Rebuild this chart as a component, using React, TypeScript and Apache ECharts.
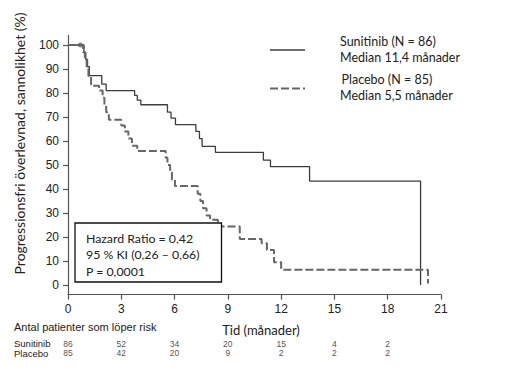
import React, { useEffect, useRef } from "react";
import * as echarts from "echarts";

const xTicks = [0, 3, 6, 9, 12, 15, 18, 21];
const yTicks = [0, 10, 20, 30, 40, 50, 60, 70, 80, 90, 100];

const sunitinibCurve: [number, number][] = [
  [0, 100], [0.8, 100], [0.9, 97], [1.0, 94], [1.1, 91], [1.2, 87.2], [1.9, 83.7], [2.15, 81],
  [3.75, 79], [3.9, 77], [4.1, 75.1], [5.6, 72], [5.8, 69.5], [6.05, 66.8],
  [7.2, 64], [7.4, 61], [7.55, 57.8], [8.3, 55.3], [11.0, 52], [11.4, 49.3],
  [13.6, 43.3], [19.85, 0],
];

const placeboCurve: [number, number][] = [
  [0, 100], [0.75, 100], [0.85, 97], [0.95, 94], [1.05, 91], [1.15, 87], [1.3, 83],
  [1.75, 81], [1.95, 78], [2.05, 75], [2.15, 72], [2.3, 68.9], [3.0, 66.5], [3.2, 64],
  [3.4, 61], [3.6, 58], [3.9, 55.8], [5.5, 53], [5.6, 50], [5.75, 47], [5.85, 44],
  [6.02, 41.2], [7.3, 38], [7.45, 35], [7.6, 32], [7.8, 29], [8.0, 27.2], [8.44, 24.4],
  [9.67, 19.2], [10.9, 17.4], [11.2, 14.6], [11.6, 9.5], [12.0, 6.4], [20.27, 0.6],
];

const censorMarks: [number, number][] = [[0.7, 100]];

const riskTimes = [0, 3, 6, 9, 12, 15, 18];
const riskGroups = ["Sunitinib", "Placebo"];
const riskSunitinib = [86, 52, 34, 20, 15, 4, 2];
const riskPlacebo = [85, 42, 20, 9, 2, 2, 2];

const legendSunitinib = ["Sunitinib (N = 86)", "Median 11,4 månader"];
const legendPlacebo = ["Placebo (N = 85)", "Median 5,5 månader"];
const hazardLines = ["Hazard Ratio = 0,42", "95 % KI (0,26 – 0,66)", "P = 0,0001"];
const yTitle = "Progressionsfri överlevnad, sannolikhet (%)";
const xTitle = "Tid (månader)";
const riskTitle = "Antal patienter som löper risk";

const SANS = "Lato, 'Open Sans', sans-serif";
const ARIAL = "'Liberation Sans', Arial, sans-serif";
const SOLID = "#3c3c3c";
const DASH = "#666666";

export default function App() {
  const ref = useRef<HTMLDivElement>(null);
  useEffect(() => {
    if (!ref.current) return;
    const chart = echarts.init(ref.current, null, { renderer: "svg" });
    const riskData: any[] = [];
    riskTimes.forEach((t, i) => {
      riskData.push([t, riskGroups[0], riskSunitinib[i]]);
      riskData.push([t, riskGroups[1], riskPlacebo[i]]);
    });
    const textEl = (text: string, x: number, y: number, font: string, extra: any = {}) => ({
      type: "text",
      x,
      y,
      ...extra,
      style: { text, font, fill: "#222", align: "left", verticalAlign: "middle", ...(extra.style || {}) },
    });
    chart.setOption({
      animation: false,
      backgroundColor: "#ffffff",
      grid: [
        { left: 68, right: 69, top: 35.4, bottom: 86.4, containLabel: false },
        { left: 68, right: 69, top: 339, height: 19, containLabel: false },
      ],
      xAxis: [
        {
          type: "value",
          gridIndex: 0,
          min: 0,
          max: 21,
          interval: 3,
          splitLine: { show: false },
          axisLine: { show: true, onZero: false, lineStyle: { color: "#555", width: 1.2 } },
          axisTick: { show: true, length: 5, lineStyle: { color: "#555", width: 1.2 } },
          axisLabel: { color: "#222", fontSize: 12, fontFamily: ARIAL, margin: 8 },
        },
        { type: "value", gridIndex: 1, min: 0, max: 21, show: false },
      ],
      yAxis: [
        {
          type: "value",
          gridIndex: 0,
          min: -4,
          max: 104,
          splitLine: { show: false },
          axisLine: { show: true, onZero: false, lineStyle: { color: "#555", width: 1.2 } },
          axisTick: { show: true, length: 5, customValues: yTicks, lineStyle: { color: "#555", width: 1.2 } },
          axisLabel: { color: "#222", fontSize: 12, fontFamily: ARIAL, margin: 9, customValues: yTicks },
        },
        {
          type: "category",
          gridIndex: 1,
          data: riskGroups,
          inverse: true,
          axisLine: { show: false },
          axisTick: { show: false },
          splitLine: { show: false },
          axisLabel: { interval: 0, align: "left", margin: 54, fontSize: 9.5, fontFamily: ARIAL, color: "#222" },
        },
      ],
      series: [
        {
          name: "Sunitinib",
          type: "line",
          step: "end",
          xAxisIndex: 0,
          yAxisIndex: 0,
          data: sunitinibCurve,
          symbol: "none",
          lineStyle: { color: SOLID, width: 1.3 },
          itemStyle: { color: SOLID },
        },
        {
          name: "Placebo",
          type: "line",
          step: "end",
          xAxisIndex: 0,
          yAxisIndex: 0,
          data: placeboCurve,
          symbol: "none",
          lineStyle: { color: DASH, width: 2, type: [8, 3] },
          itemStyle: { color: DASH },
        },
        {
          name: "censor",
          type: "scatter",
          xAxisIndex: 0,
          yAxisIndex: 0,
          data: censorMarks,
          symbol: "emptyCircle",
          symbolSize: 3,
          itemStyle: { color: "#666", borderWidth: 0.8 },
        },
        {
          name: "risk",
          type: "scatter",
          xAxisIndex: 1,
          yAxisIndex: 1,
          data: riskData,
          symbolSize: 1,
          itemStyle: { color: "rgba(0,0,0,0)" },
          label: {
            show: true,
            position: "inside",
            formatter: (p: any) => String(p.value[2]),
            fontSize: 8.5,
            fontFamily: ARIAL,
            color: "#222",
          },
        },
      ],
      graphic: [
        {
          type: "text",
          x: 19,
          y: 143.5,
          rotation: Math.PI / 2,
          style: {
            text: yTitle,
            font: `14px ${SANS}`,
            fill: "#222",
            align: "center",
            verticalAlign: "middle",
          },
        },
        {
          type: "text",
          x: 261,
          y: 330,
          style: { text: xTitle, font: `13px ${SANS}`, fill: "#222", align: "center", verticalAlign: "middle" },
        },
        textEl(riskTitle, 14, 327, `11px ${ARIAL}`),
        // legend
        { type: "line", shape: { x1: 270, y1: 50, x2: 305, y2: 50 }, style: { stroke: SOLID, lineWidth: 1.3 } },
        { type: "line", shape: { x1: 270, y1: 88.5, x2: 305, y2: 88.5 }, style: { stroke: DASH, lineWidth: 2, lineDash: [8, 3] } },
        textEl(legendSunitinib[0], 340, 41, `12.5px ${SANS}`),
        textEl(legendSunitinib[1], 340, 57, `12.5px ${SANS}`),
        textEl(legendPlacebo[0], 341.5, 79, `12.5px ${SANS}`),
        textEl(legendPlacebo[1], 340, 95, `12.5px ${SANS}`),
        // hazard box
        {
          type: "rect",
          shape: { x: 75, y: 223, width: 146.5, height: 59 },
          style: { fill: "#fff", stroke: "#111", lineWidth: 1.3 },
          z: 10,
        },
        ...hazardLines.map((t, i) => textEl(t, 86, 238 + i * 16.7, `12.3px ${SANS}`, { z: 11 })),
      ],
    });
    return () => chart.dispose();
  }, []);
  return <div ref={ref} style={{ position: "fixed", left: 0, top: 0, width: 510, height: 381 }} />;
}
